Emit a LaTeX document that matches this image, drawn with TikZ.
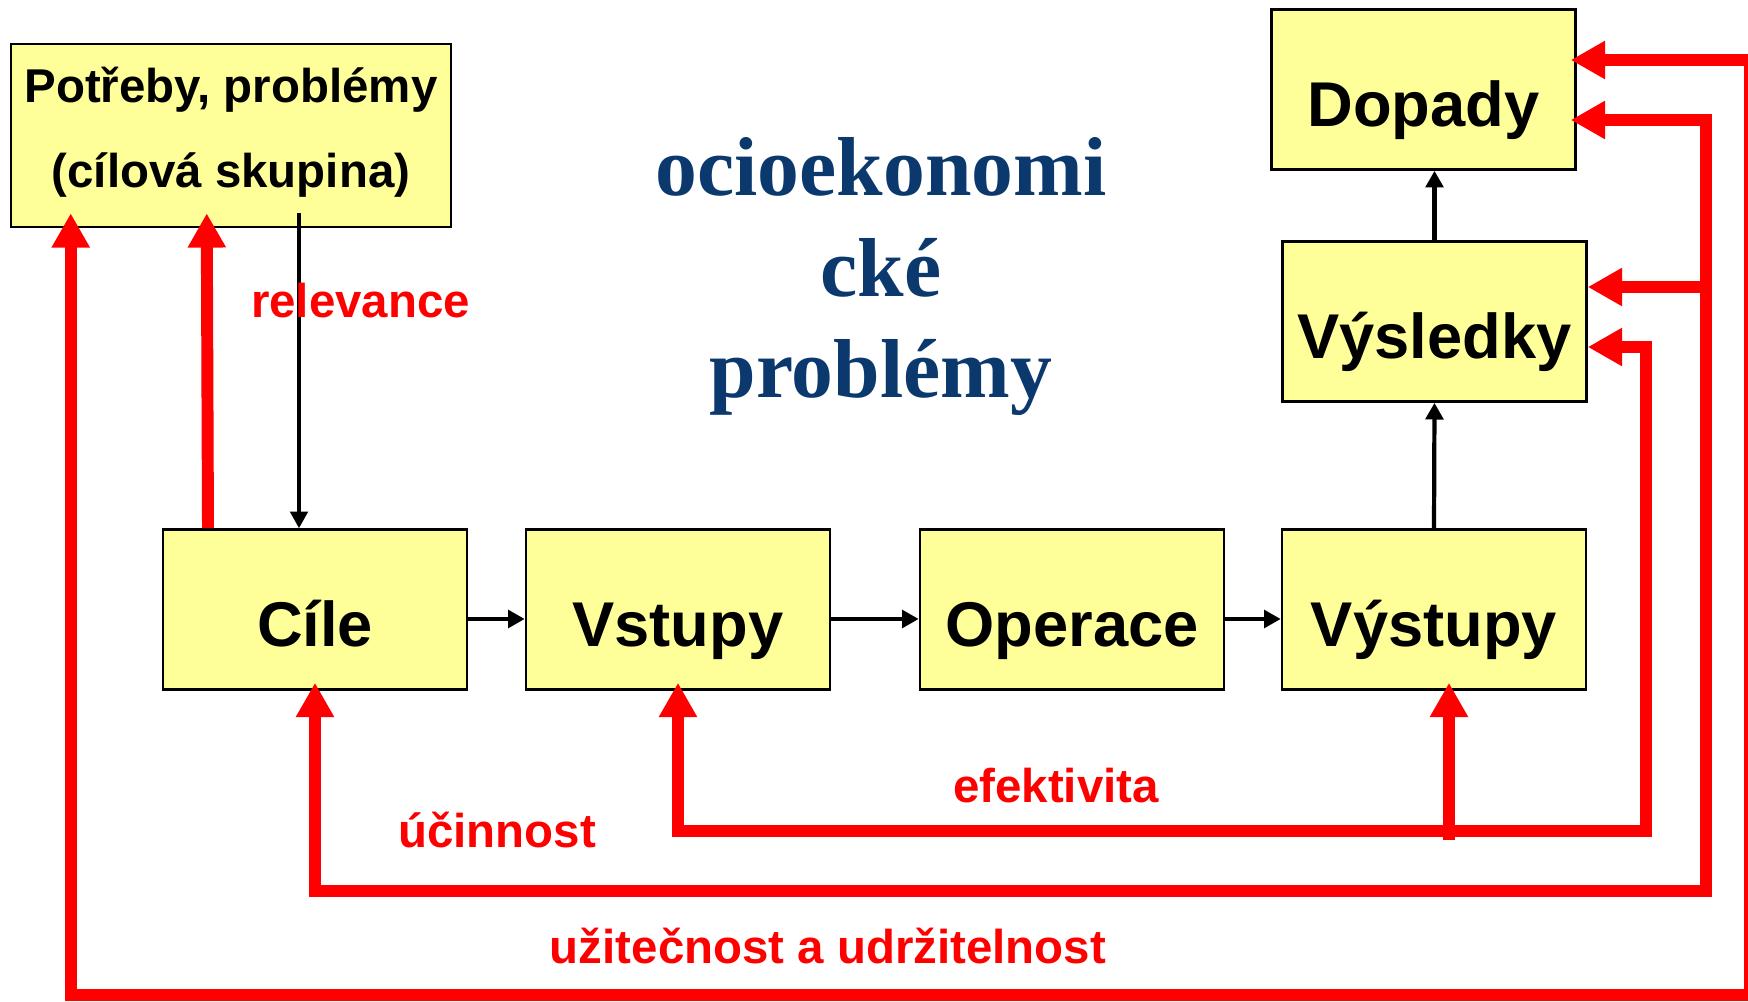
\documentclass[tikz,border=0pt]{standalone}
\usepackage{fontspec}
\setmainfont{Liberation Sans}
\newfontfamily\titlefont{Liberation Serif}
\usetikzlibrary{arrows.meta}
\definecolor{paleyellow}{RGB}{255,255,153}
\definecolor{titleblue}{RGB}{11,57,110}

\begin{document}
\begin{tikzpicture}[x=0.02cm, y=-0.02cm,
    main/.style={draw, line width=1.5pt, fill=paleyellow, inner sep=0pt, minimum width=6.08cm, minimum height=3.2cm, text height=42pt, text depth=0pt, font=\fontsize{36}{40}\selectfont\bfseries},
    flow/.style={>={Triangle[length=9.5pt,width=10pt]}, ->, line width=2.4pt},
    back/.style={red, line width=6.8pt, >={Triangle[length=19.5pt,width=20.5pt]}},
    lbl/.style={red, anchor=base, inner sep=0pt, font=\fontsize{27}{30}\selectfont\bfseries},
    titletext/.style={text=titleblue, align=center, text height=0pt, text depth=0pt, font=\titlefont\fontsize{47.6}{57.3}\selectfont\bfseries}]

    \useasboundingbox (0,0) rectangle (1748,1001);

    \node[main, minimum width=8.8cm, minimum height=3.66cm, align=center, text height=59.5pt, font=\fontsize{27}{48.8}\selectfont\bfseries] (needs) at (231,135.5) {Potřeby, problémy\\(cílová skupina)};
    \node[main] (goals) at (315,609.5) {Cíle};
    \node[main] (inputs) at (678,609.5) {Vstupy};
    \node[main] (ops) at (1072,609.5) {Operace};
    \node[main] (outputs) at (1434,609.5) {Výstupy};
    \node[main] (results) at (1434.5,321.5) {Výsledky};
    \node[main] (impact) at (1423.5,89.5) {Dopady};

    \node[titletext] (title) at (881,397) {ocioekonomi\\cké\\problémy};

    \coordinate (jA) at (1706,287);
    \coordinate (jB) at (1449,840);

    % red feedback loops
    \draw[back, ->] ([shift={(-107,0)}]goals.north) -- ([shift={(197,-15)}]needs.south west);
    \draw[back, <->] ([shift={(61,-15)}]needs.south west) |- (1750,995) |- ([shift={(-6,-29.5)}]impact.east);
    \draw[back, <->] ([shift={(0,-8)}]goals.south) |- (1706,891) |- ([shift={(-6,30.5)}]impact.east);
    \draw[back, ->] (jA) -- ([shift={(0,-34.5)}]results.east);
    \draw[back, <->] ([shift={(0,-8)}]inputs.south) |- (1646,831) |- ([shift={(0,25.5)}]results.east);
    \draw[back, ->] (jB) -- ([shift={(15,-8)}]outputs.south);

    \path[flow]
        ([yshift=-5.4pt]goals.east) edge ([yshift=-5.4pt]inputs.west)
        ([yshift=-5.4pt]inputs.east) edge ([yshift=-5.4pt]ops.west)
        ([yshift=-5.4pt]ops.east) edge ([yshift=-5.4pt]outputs.west)
        (outputs.north) edge (results.south)
        (results.north) edge (results.north |- impact.south)
        ;
    \draw[flow, line width=2pt] ([shift={(68,-15)}]needs.south) -- ([shift={(-16,0)}]goals.north);

    \node[lbl] (relev) at (360.5,317) {relevance};
    \node[lbl] (eff) at (1056,802) {efektivita};
    \node[lbl] (ucin) at (497,847) {účinnost};
    \node[lbl] (uzit) at (828,963) {užitečnost a udržitelnost};
\end{tikzpicture}
\end{document}
